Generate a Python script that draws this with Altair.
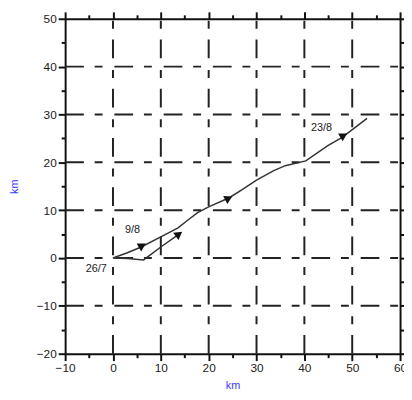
import altair as alt
import pandas as pd

# ---- data ----
X_DOMAIN = [-10, 60]
Y_DOMAIN = [-20, 50]
TICK_X = list(range(-10, 61, 5))
TICK_Y = list(range(-20, 51, 5))
GRID_X = [0, 10, 20, 30, 40, 50]
GRID_Y = [-10, 0, 10, 20, 30, 40]

track_x = [13.8, 10.0, 6.4, 3.0, 0.0, 3.0, 5.9, 10.0, 13.6, 15.6, 17.7, 20.0, 24.3, 27.0, 30.0, 33.5, 36.0, 40.3, 44.9, 47.9, 53.1]
track_y = [5.0, 2.3, -0.4, -0.1, 0.0, 1.1, 2.3, 4.4, 6.3, 7.9, 9.5, 10.7, 12.6, 14.3, 16.3, 18.2, 19.3, 20.3, 23.5, 25.2, 29.2]

marker_x = [13.8, 24.2, 5.9, 48.0]
marker_y = [5.0, 12.5, 2.2, 25.2]
marker_shape = ["triangle-up", "triangle-up", "triangle-down", "triangle-down"]
marker_angle = [54, 63, 0, 0]

label_text = ["26/7", "9/8", "23/8"]
label_x = [-3.5, 4.1, 43.6]
label_y = [-2.3, 5.8, 27.1]

# ---- tables ----
df_track = pd.DataFrame({"x": track_x, "y": track_y, "i": range(len(track_x))})
df_mark = pd.DataFrame({"x": marker_x, "y": marker_y, "shape": marker_shape, "angle": marker_angle})
df_lab = pd.DataFrame({"x": label_x, "y": label_y, "t": label_text})
df_vg = pd.DataFrame({"gx": GRID_X, "lo": Y_DOMAIN[0], "hi": Y_DOMAIN[1]})
df_hg = pd.DataFrame({"gy": GRID_Y, "lo": X_DOMAIN[0], "hi": X_DOMAIN[1]})

xs = alt.Scale(domain=X_DOMAIN, nice=False, zero=False)
ys = alt.Scale(domain=Y_DOMAIN, nice=False, zero=False)

FONT = "Liberation Sans"
tick_size = {"condition": {"test": "datum.value % 10 === 0", "value": 7}, "value": 4}
label_expr = "datum.value % 10 === 0 ? datum.label : ''"

common = dict(
    domainColor="#111", domainWidth=2, tickColor="#111", tickWidth=2,
    tickSize=tick_size, grid=False, labelFont=FONT, labelFontSize=12,
    labelColor="#222", labelFlush=False,
)

axis_bottom = alt.Axis(orient="bottom", values=TICK_X, title="km", labelPadding=2,
                       labelExpr=label_expr,
                       titleColor="#3a3aff", titleFont=FONT, titleFontSize=11,
                       titleFontWeight="normal", titleX=170, titleY=32,
                       titleBaseline="middle", titleAlign="center", **common)
axis_left = alt.Axis(orient="left", values=TICK_Y, title="km", labelPadding=2,
                     labelExpr=label_expr,
                     titleColor="#3a3aff", titleFont=FONT, titleFontSize=11,
                     titleFontWeight="normal", titleX=-51, titleY=170,
                     titleBaseline="middle", titleAlign="center", **common)
axis_top = alt.Axis(orient="top", values=TICK_X, title=None, labels=False, **common)
axis_right = alt.Axis(orient="right", values=TICK_Y, title=None, labels=False, **common)

DASH = [19, 11, 8, 12]

vgrid = alt.Chart(df_vg).mark_rule(strokeDash=DASH, strokeWidth=2, color="#222").encode(
    x=alt.X("gx:Q", scale=xs, axis=None),
    y=alt.Y("lo:Q", scale=ys, axis=None),
    y2="hi:Q",
)
hgrid = alt.Chart(df_hg).mark_rule(strokeDash=DASH, strokeWidth=2, color="#222").encode(
    y=alt.Y("gy:Q", scale=ys, axis=None),
    x=alt.X("lo:Q", scale=xs, axis=None),
    x2="hi:Q",
)
track = alt.Chart(df_track).mark_line(color="#333", strokeWidth=1.5).encode(
    x=alt.X("x:Q", scale=xs, axis=axis_bottom),
    y=alt.Y("y:Q", scale=ys, axis=axis_left),
    order="i:Q",
)
markers = alt.Chart(df_mark).mark_point(filled=True, color="#111", opacity=1, size=85).encode(
    x=alt.X("x:Q", scale=xs, axis=None),
    y=alt.Y("y:Q", scale=ys, axis=None),
    shape=alt.Shape("shape:N", scale=None),
    angle=alt.Angle("angle:Q", scale=None),
)
labels = alt.Chart(df_lab).mark_text(font=FONT, fontSize=11, color="#222").encode(
    x=alt.X("x:Q", scale=xs, axis=None),
    y=alt.Y("y:Q", scale=ys, axis=None),
    text="t:N",
)
mirror = alt.Chart(df_track).mark_point(opacity=0).encode(
    x=alt.X("x:Q", scale=xs, axis=axis_top),
    y=alt.Y("y:Q", scale=ys, axis=axis_right),
)

chart = (
    alt.layer(vgrid, hgrid, track, markers, labels, mirror)
    .resolve_axis(x="independent", y="independent")
    .properties(width=340, height=340, autosize="none",
                padding={"left": 58, "top": 8, "right": 4, "bottom": 40})
    .configure_view(stroke=None)
)

chart.save("out.html", embed_options={"renderer": "svg", "actions": False})
